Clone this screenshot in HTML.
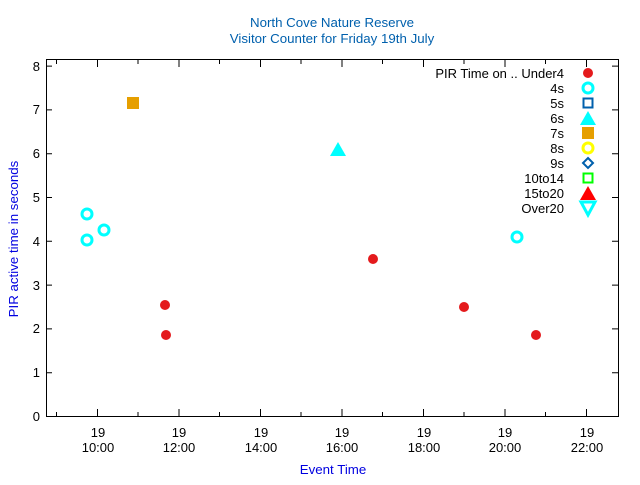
<!DOCTYPE html>
<html><head><style>body{margin:0;background:#fff}</style></head><body>
<svg width="640" height="480" xmlns="http://www.w3.org/2000/svg" font-family="Liberation Sans, sans-serif" font-size="13">
<rect width="640" height="480" fill="#fff"/>
<text x="332" y="27" text-anchor="middle" fill="#0060ad" font-size="13.3">North Cove Nature Reserve</text>
<text x="332" y="43" text-anchor="middle" fill="#0060ad" font-size="13.3">Visitor Counter for Friday 19th July</text>
<rect x="46.5" y="59.5" width="572" height="357" fill="none" stroke="#000" stroke-width="1"/>
<g stroke="#000" stroke-width="1">
<path d="M46 416.5h6M46 372.7h6M46 328.9h6M46 285.1h6M46 241.3h6M46 197.5h6M46 153.7h6M46 109.9h6M46 66.1h6"/>
<path d="M618 416.5h-6M618 372.7h-6M618 328.9h-6M618 285.1h-6M618 241.3h-6M618 197.5h-6M618 153.7h-6M618 109.9h-6M618 66.1h-6"/>
<path d="M97.5 416v-7M179 416v-7M260.5 416v-7M342 416v-7M423.5 416v-7M505 416v-7M586.5 416v-7"/>
<path d="M56.5 416v-4M138 416v-4M219.5 416v-4M301 416v-4M382.5 416v-4M464 416v-4M545.5 416v-4"/>
<path d="M97.5 60v7M179 60v7M260.5 60v7M342 60v7M423.5 60v7M505 60v7M586.5 60v7"/>
<path d="M56.5 60v4M138 60v4M219.5 60v4M301 60v4M382.5 60v4M464 60v4M545.5 60v4"/>
</g>
<g text-anchor="end" fill="#000">
<text x="40" y="421">0</text><text x="40" y="377">1</text><text x="40" y="333">2</text><text x="40" y="290">3</text><text x="40" y="246">4</text><text x="40" y="202">5</text><text x="40" y="158">6</text><text x="40" y="114">7</text><text x="40" y="71">8</text>
</g>
<g text-anchor="middle" fill="#000">
<text x="98" y="437">19</text><text x="98" y="452">10:00</text>
<text x="179" y="437">19</text><text x="179" y="452">12:00</text>
<text x="261" y="437">19</text><text x="261" y="452">14:00</text>
<text x="342" y="437">19</text><text x="342" y="452">16:00</text>
<text x="424" y="437">19</text><text x="424" y="452">18:00</text>
<text x="505" y="437">19</text><text x="505" y="452">20:00</text>
<text x="587" y="437">19</text><text x="587" y="452">22:00</text>
</g>
<text x="333" y="474" text-anchor="middle" fill="#0000e0" font-size="13.3">Event Time</text>
<text transform="translate(18,239) rotate(-90)" text-anchor="middle" fill="#0000e0" font-size="13.3">PIR active time in seconds</text>
<g fill="#e41a1c">
<circle cx="165" cy="305" r="5"/><circle cx="166" cy="335" r="5"/><circle cx="373" cy="259" r="5"/><circle cx="464" cy="307" r="5"/><circle cx="536" cy="335" r="5"/>
</g>
<g fill="none" stroke="#00ffff" stroke-width="3">
<circle cx="87" cy="214" r="5"/><circle cx="87" cy="240" r="5"/><circle cx="104" cy="230" r="5"/><circle cx="517" cy="237" r="5"/>
</g>
<rect x="127" y="97" width="12" height="12" fill="#e69f00"/>
<polygon points="338,142 346,156 330,156" fill="#00ffff"/>
<g text-anchor="end" fill="#000">
<text x="564" y="78">PIR Time on .. Under4</text><text x="564" y="93">4s</text><text x="564" y="108">5s</text><text x="564" y="123">6s</text><text x="564" y="138">7s</text><text x="564" y="153">8s</text><text x="564" y="168">9s</text><text x="564" y="183">10to14</text><text x="564" y="198">15to20</text><text x="564" y="213">Over20</text>
</g>
<circle cx="588" cy="73" r="5" fill="#e41a1c"/>
<circle cx="588" cy="88" r="5" fill="none" stroke="#00ffff" stroke-width="3"/>
<rect x="583.5" y="98.5" width="9" height="9" fill="none" stroke="#0060ad" stroke-width="2"/>
<polygon points="588,111 596,125 580,125" fill="#00ffff"/>
<rect x="582" y="127" width="12" height="12" fill="#e69f00"/>
<circle cx="588" cy="148" r="5" fill="none" stroke="#ffff00" stroke-width="3"/>
<polygon points="588,158 593,163 588,168 583,163" fill="none" stroke="#0060ad" stroke-width="2"/>
<rect x="583.5" y="173.5" width="9" height="9" fill="none" stroke="#00ff00" stroke-width="2"/>
<polygon points="588,186 596,200 580,200" fill="#ff0000"/>
<polygon points="581,202 595,202 588,215" fill="none" stroke="#00ffff" stroke-width="3"/>
</svg>
</body></html>
